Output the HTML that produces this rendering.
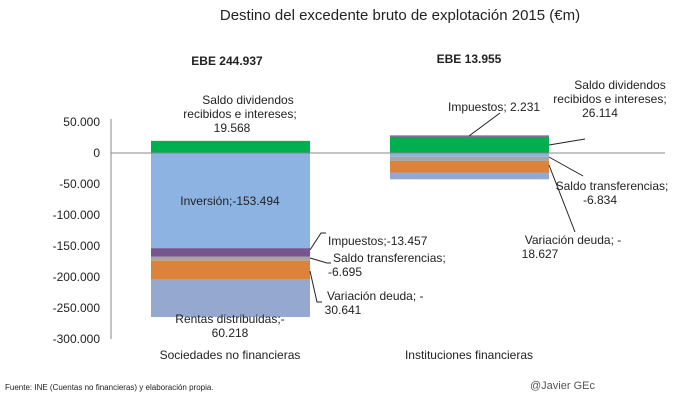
<!DOCTYPE html>
<html><head><meta charset="utf-8"><style>
body{margin:0;background:#fff;font-family:"Liberation Sans",sans-serif;}
svg text{font-family:"Liberation Sans",sans-serif;fill:#222;}
</style></head><body>
<svg width="673" height="400" xmlns="http://www.w3.org/2000/svg">
<text x="400" y="20" font-size="15" text-anchor="middle">Destino del excedente bruto de explotación 2015 (€m)</text>
<g id="axis"></g>
<g id="bars"></g>
<g id="labels" font-size="12">
<text x="248" y="104" text-anchor="middle">Saldo dividendos</text>
<text x="240" y="118" text-anchor="middle">recibidos e intereses;</text>
<text x="232" y="132" text-anchor="middle">19.568</text>
<text x="230" y="205" text-anchor="middle">Inversión;-153.494</text>
<text x="328" y="245">Impuestos;-13.457</text>
<text x="333" y="262">Saldo transferencias;</text>
<text x="345" y="276" text-anchor="middle">-6.695</text>
<text x="327" y="300">Variación deuda; -</text>
<text x="343" y="314" text-anchor="middle">30.641</text>
<text x="230" y="323" text-anchor="middle">Rentas distribuidas;-</text>
<text x="230" y="337" text-anchor="middle">60.218</text>
<text x="448" y="111">Impuestos; 2.231</text>
<text x="620" y="89" text-anchor="middle">Saldo dividendos</text>
<text x="610" y="103" text-anchor="middle">recibidos e intereses;</text>
<text x="600" y="117" text-anchor="middle">26.114</text>
<text x="612" y="190" text-anchor="middle">Saldo transferencias;</text>
<text x="600" y="204" text-anchor="middle">-6.834</text>
<text x="573" y="244" text-anchor="middle">Variación deuda; -</text>
<text x="540" y="258" text-anchor="middle">18.627</text>
<text x="227" y="65" font-weight="bold" text-anchor="middle">EBE 244.937</text>
<text x="469" y="63" font-weight="bold" text-anchor="middle">EBE 13.955</text>
<text x="230" y="359" text-anchor="middle">Sociedades no financieras</text>
<text x="469" y="359" text-anchor="middle">Instituciones financieras</text>
</g>
<g stroke="#222" fill="none" stroke-width="1">
<polyline points="310,250 321,233 326,233"/>
<polyline points="310,258 327,263 331,263"/>
<polyline points="310,271 317,302 322,302"/>
<polyline points="469,136 500,113"/>
<polyline points="549,145 585,139"/>
<polyline points="549,157 583,176"/>
<polyline points="549,165 575,232"/>
</g>
<text x="5" y="390" font-size="8">Fuente: INE (Cuentas no financieras) y elaboración propia.</text>
<text x="530" y="389" font-size="11" fill="#555" style="fill:#555">@Javier GEc</text>
</svg>
<script>
const ticks=[50000,0,-50000,-100000,-150000,-200000,-250000,-300000];
const tickLabels=["50.000","0","-50.000","-100.000","-150.000","-200.000","-250.000","-300.000"];
const categories=["Sociedades no financieras","Instituciones financieras"];
const posSeries=["Saldo dividendos","Impuestos pos"];
const posValues=[[19568,0],[26114,2231]];
const posColors=["#00b050","#75568f"];
const negSeries=["Inversión","Impuestos","Saldo transferencias","Variación deuda","Rentas distribuidas"];
const negValues=[[-153494,-13457,-6695,-30641,-60218],[-6000,0,-6834,-18627,-11000]];
const negColors=["#8db3e2","#75568f","#a6a6a6","#dd823b","#95a9d0"];
const NS="http://www.w3.org/2000/svg";
const y=v=>153-v*0.00062;
const xs=[151,390],bw=159;
const ax=document.getElementById('axis');
function el(t,a,p){const e=document.createElementNS(NS,t);for(const k in a)e.setAttribute(k,a[k]);p.appendChild(e);return e;}
ticks.forEach((t,i)=>{const tx=el('text',{x:100,y:y(t)+4,'text-anchor':'end','font-size':12},ax);tx.textContent=tickLabels[i];

});
const yl=el('line',{x1:111,x2:111,y1:y(55000),y2:y(-300000),stroke:'#888'},ax);


const bars=document.getElementById('bars');
categories.forEach((c,ci)=>{
 let acc=0;
 posValues[ci].forEach((v,si)=>{if(!v)return;const r=el('rect',{x:xs[ci],y:y(acc+v),width:bw,height:y(acc)-y(acc+v),fill:posColors[si]},bars);acc+=v;
 
 });
 acc=0;
 negValues[ci].forEach((v,si)=>{if(!v)return;const r=el('rect',{x:xs[ci],y:y(acc),width:bw,height:y(acc+v)-y(acc),fill:negColors[si]},bars);acc+=v;
 
 });
});
const zl=el('line',{x1:111,x2:665,y1:y(0),y2:y(0),stroke:'#888'},bars);


</script>
</body></html>
